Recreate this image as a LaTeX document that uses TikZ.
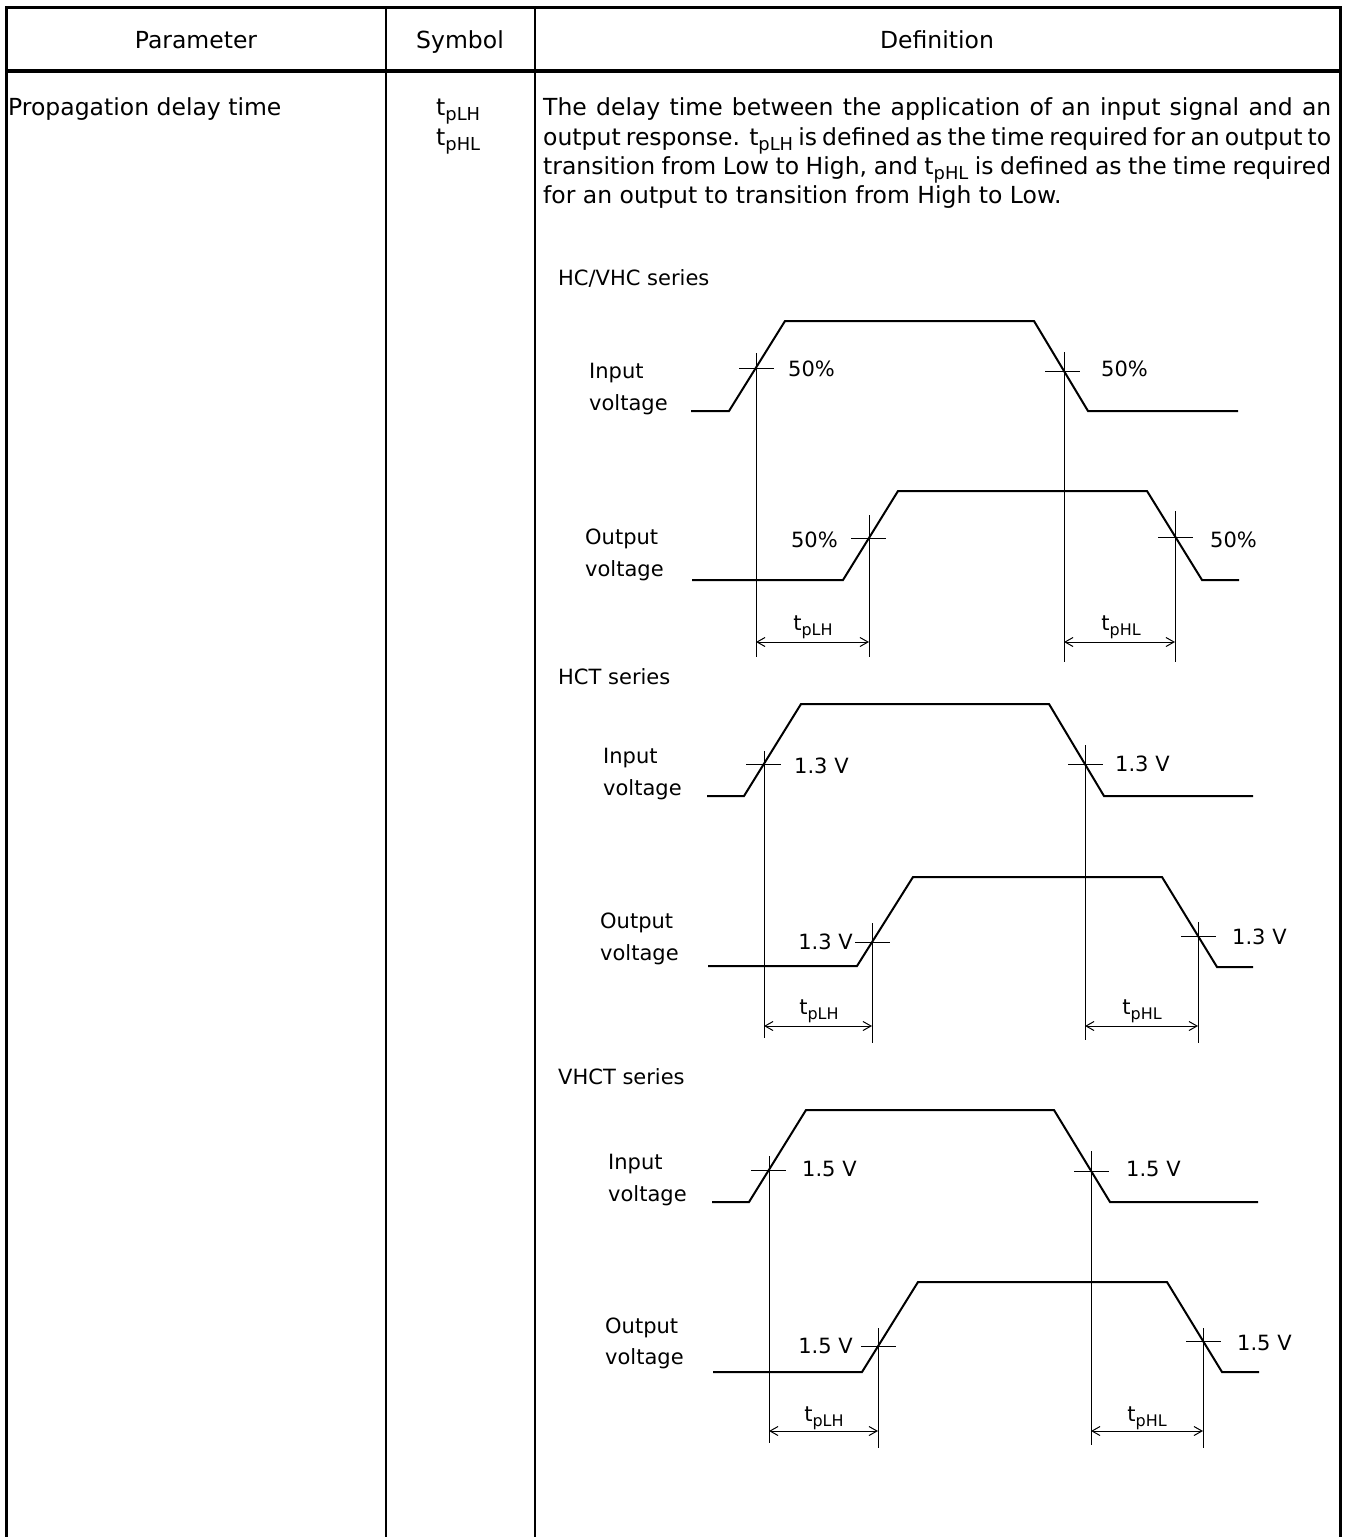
\documentclass[tikz,border=0pt]{standalone}
\usepackage{fontspec}
\setmainfont{DejaVu Sans}
\usepackage{graphicx}
\usetikzlibrary{arrows.meta}
\newcommand\mysub[1]{\raisebox{-0.24em}{\scalebox{0.76}{#1}}}
\tikzset{
  tbl/.style={line width=3pt},
  divline/.style={line width=2.5pt},
  wave/.style={line width=2pt, line join=miter},
  thinline/.style={line width=1pt},
  dimline/.style={line width=1pt, {Straight Barb[length=8pt,width=9pt]}-{Straight Barb[length=8pt,width=9pt]}},
  hdr/.style={font=\fontsize{23.5}{28}\selectfont, inner sep=0pt, anchor=base},
  txt/.style={font=\fontsize{23.5}{28}\selectfont, inner sep=0pt, anchor=base west},
  lbl/.style={font=\fontsize{21}{25}\selectfont, inner sep=0pt, anchor=base west},
  lblr/.style={lbl, anchor=base east},
  lblc/.style={lbl, anchor=base},
}
\begin{document}
\begin{tikzpicture}[x=1pt,y=-1pt]
\useasboundingbox (0,0) rectangle (1346,1537);
% ---------- table ----------
\coordinate (TL) at (6,7);
\coordinate (TR) at (1340,7);
\coordinate (BL) at (6,1537);
\coordinate (BR) at (1340,1537);
\coordinate (H1) at (6,71);
\coordinate (H2) at (1340,71);
\coordinate (C1t) at (386,7);
\coordinate (C1b) at (386,1537);
\coordinate (C2t) at (535,7);
\coordinate (C2b) at (535,1537);
\draw[tbl] (BL) -- (TL) -- (TR) -- (BR);
\draw[line width=3.5pt] (H1) -- (H2);
\draw[divline] (C1t) -- (C1b);
\draw[divline] (C2t) -- (C2b);
\node[hdr] (hpar) at (196,48) {Parameter};
\node[hdr] (hsym) at (460,48) {Symbol};
\node[hdr] (hdef) at (937,48) {Definition};
\node[txt] (par) at (8,115) {Propagation delay time};
\node[txt] (sym1) at (436,115) {t\mysub{pLH}};
\node[txt] (sym2) at (436,145) {t\mysub{pHL}};
\node[txt] (d1) at (543,115) {\makebox[788pt][s]{The delay time between the application of an input signal and an}};
\node[txt] (d2) at (543,145) {\makebox[788pt][s]{output response. t\mysub{pLH} is defined as the time required for an output to}};
\node[txt] (d3) at (543,174) {\makebox[788pt][s]{transition from Low to High, and t\mysub{pHL} is defined as the time required}};
\node[txt] (d4) at (543,203) {for an output to transition from High to Low.};
% ---------- HC/VHC ----------
\node[lbl] (s1) at (558,285) {HC/VHC series};
\node[lbl] (a1in1) at (589,378) {Input};
\node[lbl] (a1in2) at (589,410) {voltage};
\node[lbl] (a1out1) at (585,544) {Output};
\node[lbl] (a1out2) at (585,576) {voltage};
\draw[wave] (691,411) -- (729,411) -- (785,321) -- (1034,321) -- (1088,411) -- (1238,411);
\draw[wave] (692,580) -- (843,580) -- (898,491) -- (1147,491) -- (1202,580) -- (1239,580);
\coordinate (a1v1t) at (756,353); \coordinate (a1v1b) at (756,657);
\coordinate (a1v2t) at (869,515); \coordinate (a1v2b) at (869,657);
\coordinate (a1v3t) at (1064,352); \coordinate (a1v3b) at (1064,662);
\coordinate (a1v4t) at (1175,511); \coordinate (a1v4b) at (1175,662);
\draw[thinline] (a1v1t) -- (a1v1b);
\draw[thinline] (a1v2t) -- (a1v2b);
\draw[thinline] (a1v3t) -- (a1v3b);
\draw[thinline] (a1v4t) -- (a1v4b);
\draw[thinline] (739,368) -- (774,368);
\draw[thinline] (851,538) -- (886,538);
\draw[thinline] (1045,371) -- (1080,371);
\draw[thinline] (1158,537) -- (1193,537);
\coordinate (a1d1) at (756,642); \coordinate (a1d2) at (869,642);
\coordinate (a1d3) at (1064,642); \coordinate (a1d4) at (1175,642);
\draw[dimline] (a1d1) -- (a1d2);
\draw[dimline] (a1d3) -- (a1d4);
\node[lbl] (a1p1) at (788,376) {50\%};
\node[lbl] (a1p2) at (1101,376) {50\%};
\node[lblr] (a1p3) at (838,547) {50\%};
\node[lbl] (a1p4) at (1210,547) {50\%};
\node[lblc] (a1t1) at (813,630) {t\mysub{pLH}};
\node[lblc] (a1t2) at (1121,630) {t\mysub{pHL}};
% ---------- HCT ----------
\node[lbl] (s2) at (558,684) {HCT series};
\node[lbl] (a2in1) at (603,763) {Input};
\node[lbl] (a2in2) at (603,795) {voltage};
\node[lbl] (a2out1) at (600,928) {Output};
\node[lbl] (a2out2) at (600,960) {voltage};
\draw[wave] (707,796) -- (744,796) -- (801,704) -- (1049,704) -- (1104,796) -- (1253,796);
\draw[wave] (708,966) -- (857,966) -- (913,877) -- (1162,877) -- (1217,967) -- (1253,967);
\coordinate (a2v1t) at (764,751); \coordinate (a2v1b) at (764,1038);
\coordinate (a2v2t) at (872,923); \coordinate (a2v2b) at (872,1043);
\coordinate (a2v3t) at (1085,745); \coordinate (a2v3b) at (1085,1040);
\coordinate (a2v4t) at (1198,922); \coordinate (a2v4b) at (1198,1043);
\draw[thinline] (a2v1t) -- (a2v1b);
\draw[thinline] (a2v2t) -- (a2v2b);
\draw[thinline] (a2v3t) -- (a2v3b);
\draw[thinline] (a2v4t) -- (a2v4b);
\draw[thinline] (746,764) -- (781,764);
\draw[thinline] (855,942) -- (890,942);
\draw[thinline] (1068,764) -- (1103,764);
\draw[thinline] (1181,936) -- (1216,936);
\coordinate (a2d1) at (764,1026); \coordinate (a2d2) at (872,1026);
\coordinate (a2d3) at (1085,1026); \coordinate (a2d4) at (1198,1026);
\draw[dimline] (a2d1) -- (a2d2);
\draw[dimline] (a2d3) -- (a2d4);
\node[lbl] (a2p1) at (794,773) {1.3 V};
\node[lbl] (a2p2) at (1115,771) {1.3 V};
\node[lblr] (a2p3) at (853,949) {1.3 V};
\node[lbl] (a2p4) at (1232,944) {1.3 V};
\node[lblc] (a2t1) at (819,1014) {t\mysub{pLH}};
\node[lblc] (a2t2) at (1142,1014) {t\mysub{pHL}};
% ---------- VHCT ----------
\node[lbl] (s3) at (558,1084) {VHCT series};
\node[lbl] (a3in1) at (608,1169) {Input};
\node[lbl] (a3in2) at (608,1201) {voltage};
\node[lbl] (a3out1) at (605,1333) {Output};
\node[lbl] (a3out2) at (605,1364) {voltage};
\draw[wave] (712,1202) -- (749,1202) -- (806,1110) -- (1054,1110) -- (1110,1202) -- (1258,1202);
\draw[wave] (713,1372) -- (862,1372) -- (918,1282) -- (1167,1282) -- (1222,1372) -- (1259,1372);
\coordinate (a3v1t) at (769,1156); \coordinate (a3v1b) at (769,1443);
\coordinate (a3v2t) at (878,1328); \coordinate (a3v2b) at (878,1448);
\coordinate (a3v3t) at (1091,1151); \coordinate (a3v3b) at (1091,1445);
\coordinate (a3v4t) at (1203,1328); \coordinate (a3v4b) at (1203,1448);
\draw[thinline] (a3v1t) -- (a3v1b);
\draw[thinline] (a3v2t) -- (a3v2b);
\draw[thinline] (a3v3t) -- (a3v3b);
\draw[thinline] (a3v4t) -- (a3v4b);
\draw[thinline] (751,1170) -- (786,1170);
\draw[thinline] (861,1346) -- (896,1346);
\draw[thinline] (1074,1171) -- (1109,1171);
\draw[thinline] (1186,1341) -- (1221,1341);
\coordinate (a3d1) at (769,1431); \coordinate (a3d2) at (878,1431);
\coordinate (a3d3) at (1091,1431); \coordinate (a3d4) at (1203,1431);
\draw[dimline] (a3d1) -- (a3d2);
\draw[dimline] (a3d3) -- (a3d4);
\node[lbl] (a3p1) at (802,1176) {1.5 V};
\node[lbl] (a3p2) at (1126,1176) {1.5 V};
\node[lblr] (a3p3) at (853,1353) {1.5 V};
\node[lbl] (a3p4) at (1237,1350) {1.5 V};
\node[lblc] (a3t1) at (824,1421) {t\mysub{pLH}};
\node[lblc] (a3t2) at (1147,1421) {t\mysub{pHL}};
\end{tikzpicture}
\end{document}
